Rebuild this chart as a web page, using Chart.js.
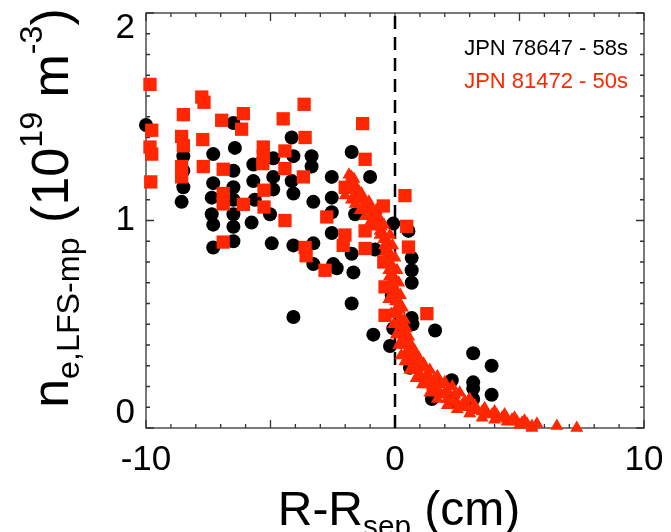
<!DOCTYPE html>
<html>
<head>
<meta charset="utf-8">
<script src="https://cdn.jsdelivr.net/npm/chart.js@4/dist/chart.umd.min.js"></script>
<style>
  html, body { margin: 0; padding: 0; background: #fff; }
  #wrap { width: 671px; height: 532px; }
</style>
</head>
<body>
<div id="wrap"><canvas id="c" width="671" height="532"></canvas></div>
<script>
// ===== DATA =====
const blackX = [-10.0, -8.5, -8.5, -8.5, -8.57, -7.3, -7.3, -7.36, -7.36, -7.3, -7.3,
  -6.49, -6.43, -6.49, -6.49, -6.49, -6.49, -6.49, -6.49,
  -5.69, -5.69, -5.63, -5.76,
  -4.89, -4.89, -4.89, -5.02, -4.95,
  -4.15, -4.08, -4.15, -4.08, -4.08, -4.08,
  -3.35, -3.35, -3.28, -3.28, -3.28,
  -2.54, -2.54, -2.54, -2.54, -2.48, -2.34,
  -1.74, -1.6, -1.74, -1.67, -1.74,
  -1.0, -0.8, -0.87,
  -0.07, -0.13, -0.07, -0.2,
  0.54, 0.67, 0.67, 0.67, 0.67, 0.7, 0.6,
  1.61, 1.48, 1.4,
  2.28, 2.28,
  3.14, 3.14, 3.14, 3.14,
  3.88, 3.88];
const blackY = [1.46, 1.31, 1.24, 1.16, 1.09, 1.32, 1.18, 1.11, 1.03, 0.98, 0.87,
  1.47, 1.35, 1.24, 1.16, 1.10, 1.03, 0.97, 0.90,
  1.27, 1.19, 1.10, 0.99,
  1.30, 1.21, 1.15, 1.03, 0.89,
  1.40, 1.31, 1.19, 1.13, 0.88, 0.535,
  1.31, 1.26, 1.09, 0.89, 0.79,
  1.21, 1.11, 1.04, 0.94, 0.79, 0.77,
  1.33, 1.03, 0.84, 0.75, 0.60,
  1.21, 0.86, 0.45,
  0.985, 0.64, 0.48, 0.395,
  0.95, 0.82, 0.76, 0.70, 0.53, 0.50, 0.29,
  0.47, 0.14, 0.22,
  0.23, 0.13,
  0.36, 0.22, 0.19, 0.14,
  0.30, 0.16];

const squareX = [-9.84, -9.77, -9.84, -9.77, -9.81,
  -8.5, -8.57, -8.5, -8.57, -8.57,
  -7.76, -7.67, -7.72, -7.70,
  -6.96, -6.90, -6.90, -6.90, -6.90,
  -6.09, -6.16, -6.09,
  -5.29, -5.29, -5.31, -5.26, -5.26,
  -4.49, -4.42, -4.42, -4.42,
  -3.65, -3.61, -3.68, -3.61, -3.57,
  -2.74, -2.81,
  -2.0, -2.01, -2.08,
  -1.30, -1.20, -1.20, -1.20,
  -0.47, -0.45, -0.40, -0.40,
  0.40, 0.47, 0.54, 1.28];
const squareY = [1.656, 1.435, 1.354, 1.32, 1.186,
  1.51, 1.405, 1.36, 1.26, 1.21,
  1.595, 1.57, 1.39, 1.26,
  1.483, 1.247, 1.13, 1.08, 0.896,
  1.515, 1.44, 1.078,
  1.354, 1.31, 1.274, 1.146, 1.065,
  1.49, 1.335, 1.25, 1.0,
  1.56, 1.40, 1.21, 0.87, 0.83,
  1.017, 0.76,
  1.16, 0.93, 0.88,
  1.467, 1.295, 0.95, 0.865,
  1.07, 0.80, 0.68, 0.543,
  1.12, 0.972, 0.872, 0.551];

// dense profile (JPN 81472, high resolution)
const triX = [-1.85, -1.80, -1.75, -1.70, -1.65, -1.60, -1.55, -1.45, -1.40, -1.35, -1.30, -1.25,
  -1.15, -1.05, -1.05, -0.95, -0.85, -0.80, -0.75, -0.70, -0.62, -0.55, -0.50, -0.45, -0.45,
  -0.42, -0.38, -0.35, -0.30, -0.30, -0.25, -0.22, -0.20, -0.15, -0.12, -0.10, -0.05, -0.05,
  0.02, 0.02, 0.08, 0.10, 0.12, 0.18, 0.18, 0.22, 0.25, 0.28, 0.32, 0.35, 0.40, 0.45, 0.48,
  0.55, 0.60, 0.65, 0.75, 0.75, 0.85, 0.90, 0.95, 1.05, 1.10, 1.20, 1.30, 1.35, 1.50, 1.55,
  1.65, 1.80, 1.80, 1.95, 2.10, 2.10, 2.30, 2.40, 2.50, 2.70, 2.80, 2.90, 3.10, 3.20, 3.30,
  3.50, 3.60, 3.70, 3.90, 4.00, 4.10, 4.30, 4.40, 4.50, 4.70, 4.80, 4.90, 5.10, 5.20, 5.30,
  5.50, 5.70, 6.50, 7.30,
  -1.50, -1.10, -0.90, -0.60, -0.35, -0.20, -0.10, 0.05, 0.15, 0.30, 0.50, 0.70, 1.00, 1.40,
  -2.00, -1.90, -1.75, -1.60, -1.40, -1.20, -1.00, -0.80, -0.60,
  -0.20, -0.10, 0.00, 0.08, 0.15, 0.22, 0.30, 0.38, 0.45, 0.55, 0.65, 0.80, 0.95, 1.15, 1.40,
  1.70, 2.00, 2.30, 2.60, 3.00,
  -0.25, -0.15, -0.05, 0.05, 0.15, 0.25, 0.40, 0.60, 0.85, 1.10, 1.40, 1.70, 2.10, 2.50, 3.00,
  3.50, 4.00, 4.50, 5.00, 5.50];
const triY = [1.22, 1.18, 1.21, 1.15, 1.20, 1.17, 1.13, 1.14, 1.10, 1.13, 1.11, 1.07,
  1.08, 1.05, 1.09, 1.06, 1.02, 1.04, 1.05, 1.00, 1.01, 0.97, 0.94, 0.91, 0.98,
  0.88, 0.85, 0.82, 0.79, 0.90, 0.76, 0.73, 0.84, 0.70, 0.78, 0.67, 0.64, 0.72,
  0.61, 0.67, 0.58, 0.62, 0.55, 0.52, 0.57, 0.49, 0.52, 0.46, 0.43, 0.47, 0.40, 0.43, 0.37,
  0.35, 0.39, 0.32, 0.30, 0.35, 0.28, 0.32, 0.26, 0.25, 0.29, 0.23, 0.26, 0.21, 0.20, 0.23,
  0.18, 0.17, 0.21, 0.16, 0.14, 0.18, 0.13, 0.16, 0.12, 0.11, 0.13, 0.10, 0.09, 0.11, 0.085,
  0.08, 0.095, 0.07, 0.065, 0.08, 0.06, 0.05, 0.065, 0.045, 0.04, 0.05, 0.03, 0.025, 0.035, 0.02,
  0.01, 0.02, 0.01, 0.0,
  1.12, 1.03, 1.01, 0.95, 0.87, 0.80, 0.74, 0.63, 0.59, 0.50, 0.41, 0.36, 0.30, 0.24,
  1.12, 1.15, 1.10, 1.08, 1.05, 1.02, 0.99, 0.97, 0.93,
  0.93, 0.88, 0.82, 0.76, 0.70, 0.64, 0.58, 0.52, 0.48, 0.44, 0.40, 0.37, 0.34, 0.31, 0.28,
  0.25, 0.22, 0.20, 0.17, 0.14,
  0.62, 0.55, 0.50, 0.45, 0.40, 0.35, 0.32, 0.28, 0.24, 0.21, 0.17, 0.14, 0.11, 0.09, 0.07,
  0.05, 0.04, 0.03, 0.015, 0.0];

const sepX = [0, 0];
const sepY = [0, 2];

const seriesNames = ["JPN 78647 - 58s", "JPN 81472 - 50s"];
const xTicks = [-10, 0, 10];
const yTicks = [0, 1, 2];

const RED = "#ff2600";
const FONT = "'Liberation Sans', Arial, Helvetica, sans-serif";

function pts(xs, ys) {
  return xs.map((x, i) => ({ x: x, y: ys[i] }));
}

/* ===== FRAME, TICKS, LABELS ===== */
const framePlugin = {
  id: "frame",
  beforeDatasetsDraw(chart) {
    const ctx = chart.ctx, a = chart.chartArea;
    const xs = chart.scales.x, ys = chart.scales.y;
    ctx.save();
    ctx.strokeStyle = "#333";
    ctx.lineWidth = 1.3;
    ctx.strokeRect(a.left, a.top, a.right - a.left, a.bottom - a.top);
    ctx.beginPath();
    for (let v = -10; v <= 10; v++) {
      const px = xs.getPixelForValue(v);
      const len = v % 5 === 0 ? 8 : 4;
      ctx.moveTo(px, a.bottom); ctx.lineTo(px, a.bottom - len);
      ctx.moveTo(px, a.top); ctx.lineTo(px, a.top + len);
    }
    for (let k = 0; k <= 20; k++) {
      const py = ys.getPixelForValue(k / 10);
      const len = k % 10 === 0 ? 8 : 4;
      ctx.moveTo(a.left, py); ctx.lineTo(a.left + len, py);
      ctx.moveTo(a.right, py); ctx.lineTo(a.right - len, py);
    }
    ctx.stroke();
    ctx.restore();
  },
  afterDraw(chart) {
    const ctx = chart.ctx, a = chart.chartArea;
    const xs = chart.scales.x, ys = chart.scales.y;
    ctx.save();
    ctx.fillStyle = "#000";
    ctx.font = "35px " + FONT;
    ctx.textAlign = "center";
    ctx.textBaseline = "alphabetic";
    xTicks.forEach(v => ctx.fillText(String(v), xs.getPixelForValue(v), 470));
    ctx.textAlign = "right";
    ctx.textBaseline = "middle";
    yTicks.forEach(v => {
      let py = ys.getPixelForValue(v);
      if (v === yTicks[0]) py -= 15;
      if (v === yTicks[yTicks.length - 1]) py += 15;
      ctx.fillText(String(v), 135, py);
    });

    // legend text
    ctx.font = "22px " + FONT;
    ctx.textBaseline = "alphabetic";
    ctx.textAlign = "right";
    ctx.fillStyle = "#000";
    ctx.fillText(seriesNames[0], 628, 55);
    ctx.fillStyle = RED;
    ctx.fillText(seriesNames[1], 628, 88);

    // axis titles
    ctx.fillStyle = "#000";
    drawRich(ctx, [
      { t: "R-R", s: 1, dy: 0 },
      { t: "sep", s: 0.62, dy: 0.22 },
      { t: " (cm)", s: 1, dy: 0 }
    ], 48, (a.left + a.right) / 2 + 4, 525, 0);
    drawRich(ctx, [
      { t: "n", s: 1, dy: 0 },
      { t: "e,LFS-mp", s: 0.62, dy: 0.22 },
      { t: " (10", s: 1, dy: 0 },
      { t: "19", s: 0.62, dy: -0.5 },
      { t: " m", s: 1, dy: 0 },
      { t: "-3", s: 0.62, dy: -0.5 },
      { t: ")", s: 1, dy: 0 }
    ], 52, 68, 208, -Math.PI / 2);
    ctx.restore();
  }
};

function drawRich(ctx, parts, size, x0, y0, rot) {
  let total = 0;
  parts.forEach(p => {
    ctx.font = (size * p.s) + "px " + FONT;
    p.w = ctx.measureText(p.t).width;
    total += p.w;
  });
  ctx.save();
  ctx.translate(x0, y0);
  if (rot) ctx.rotate(rot);
  ctx.textAlign = "left";
  ctx.textBaseline = "alphabetic";
  let x = -total / 2;
  parts.forEach(p => {
    ctx.font = (size * p.s) + "px " + FONT;
    ctx.fillText(p.t, x, p.dy * size);
    x += p.w;
  });
  ctx.restore();
}

new Chart(document.getElementById("c"), {
  type: "scatter",
  data: {
    datasets: [
      {
        label: "profile",
        data: pts(triX, triY),
        pointStyle: "triangle",
        pointRadius: 7.5,
        pointBackgroundColor: RED,
        pointBorderWidth: 0,
        clip: false
      },
      {
        label: seriesNames[1],
        data: pts(squareX, squareY),
        pointStyle: "rect",
        pointRadius: 9.4,
        pointBackgroundColor: RED,
        pointBorderWidth: 0,
        clip: false
      },
      {
        label: seriesNames[0],
        data: pts(blackX, blackY),
        pointStyle: "circle",
        pointRadius: 7,
        pointBackgroundColor: "#000",
        pointBorderWidth: 0,
        clip: false
      },
      {
        label: "separatrix",
        type: "line",
        data: pts(sepX, sepY),
        showLine: true,
        borderColor: "#000",
        borderWidth: 2.5,
        borderDash: [13, 8],
        pointRadius: 0
      }
    ]
  },
  options: {
    responsive: false,
    animation: false,
    layout: { padding: { left: 146, right: 27, top: 13, bottom: 104 } },
    plugins: { legend: { display: false }, tooltip: { enabled: false } },
    scales: {
      x: { type: "linear", min: -10, max: 10, display: false },
      y: { type: "linear", min: 0, max: 2, display: false }
    }
  },
  plugins: [framePlugin]
});
</script>
</body>
</html>
